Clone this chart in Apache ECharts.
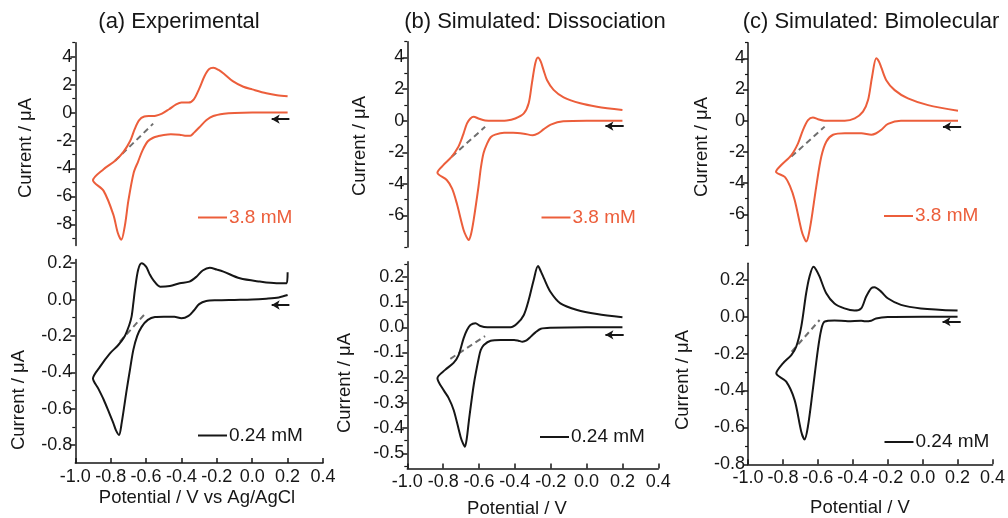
<!DOCTYPE html>
<html>
<head>
<meta charset="utf-8">
<script src="https://cdn.jsdelivr.net/npm/echarts@6/dist/echarts.min.js"></script>
<style>
  html, body { margin: 0; padding: 0; background: #ffffff; }
  #chart { width: 1008px; height: 518px; }
</style>
</head>
<body>
<div id="chart"></div>
<script>
// Cyclic voltammograms: potential (V) vs current (µA), each loop listed in sweep order
// (start at +0.2 V, sweep negative to the switching potential, then back to +0.2 V).

const potentialTicks = [-1.0, -0.8, -0.6, -0.4, -0.2, 0.0, 0.2, 0.4];

// (a) Experimental, 3.8 mM
const expHigh = [
  [0.20, 0.00], [0.10, 0.00], [0.00, 0.00], [-0.10, -0.02], [-0.16, -0.08], [-0.22, -0.24],
  [-0.26, -0.55], [-0.30, -1.07], [-0.33, -1.45], [-0.35, -1.65], [-0.38, -1.65], [-0.41, -1.58],
  [-0.46, -1.55], [-0.50, -1.60], [-0.53, -1.68], [-0.56, -1.80], [-0.59, -2.05], [-0.62, -2.70],
  [-0.645, -3.50], [-0.67, -4.30], [-0.70, -6.30], [-0.72, -8.10], [-0.74, -9.10], [-0.76, -8.60],
  [-0.785, -7.30], [-0.84, -5.60], [-0.90, -4.84],
  [-0.84, -4.05], [-0.775, -3.45], [-0.73, -2.85], [-0.69, -2.03], [-0.665, -1.20], [-0.64, -0.55],
  [-0.61, -0.28], [-0.575, -0.24], [-0.545, -0.22], [-0.51, -0.07], [-0.47, 0.24], [-0.43, 0.58],
  [-0.40, 0.72], [-0.36, 0.72], [-0.33, 0.95], [-0.30, 1.70], [-0.27, 2.60], [-0.245, 3.10],
  [-0.22, 3.20], [-0.19, 3.05], [-0.16, 2.78], [-0.11, 2.25], [-0.05, 1.85], [0.00, 1.66],
  [0.08, 1.38], [0.14, 1.24], [0.20, 1.17]
];
// (a) Experimental, 0.24 mM
const expLow = [
  [0.20, 0.025], [0.15, 0.012], [0.08, 0.005], [0.00, 0.000], [-0.10, -0.002], [-0.20, -0.004],
  [-0.26, -0.008], [-0.30, -0.025], [-0.33, -0.060], [-0.36, -0.090], [-0.40, -0.103], [-0.44, -0.095],
  [-0.50, -0.094], [-0.55, -0.096], [-0.59, -0.112], [-0.625, -0.150], [-0.65, -0.200], [-0.672, -0.277],
  [-0.69, -0.380], [-0.71, -0.500], [-0.738, -0.680], [-0.753, -0.745], [-0.77, -0.720], [-0.785, -0.680],
  [-0.81, -0.620], [-0.84, -0.550], [-0.87, -0.490], [-0.90, -0.435],
  [-0.86, -0.369], [-0.804, -0.296], [-0.757, -0.250], [-0.72, -0.200], [-0.695, -0.140], [-0.682, -0.094],
  [-0.672, -0.020], [-0.663, 0.053], [-0.645, 0.163], [-0.625, 0.200], [-0.60, 0.181], [-0.58, 0.140],
  [-0.56, 0.108], [-0.52, 0.071], [-0.465, 0.075], [-0.41, 0.090], [-0.355, 0.099], [-0.315, 0.126],
  [-0.28, 0.160], [-0.24, 0.175], [-0.20, 0.165], [-0.163, 0.154], [-0.07, 0.117], [0.043, 0.099],
  [0.137, 0.090], [0.195, 0.090], [0.20, 0.150]
];
// (b) Simulated: Dissociation, 3.8 mM
const disHigh = [
  [0.20, 0.00], [0.00, 0.00], [-0.13, -0.04], [-0.20, -0.25], [-0.24, -0.55], [-0.27, -0.80],
  [-0.30, -0.92], [-0.35, -0.82], [-0.41, -0.76], [-0.46, -0.76], [-0.51, -0.88], [-0.535, -1.05],
  [-0.555, -1.45], [-0.575, -2.06], [-0.59, -3.00], [-0.603, -4.18], [-0.63, -6.29], [-0.645, -7.20],
  [-0.658, -7.55], [-0.67, -7.35], [-0.686, -6.92], [-0.724, -5.23], [-0.75, -4.30], [-0.78, -3.75],
  [-0.832, -3.29],
  [-0.798, -2.80], [-0.752, -2.28], [-0.715, -1.65], [-0.70, -1.25], [-0.686, -0.80], [-0.667, -0.17],
  [-0.648, 0.14], [-0.63, 0.25], [-0.603, 0.14], [-0.566, 0.02], [-0.52, 0.00], [-0.445, 0.02],
  [-0.398, 0.14], [-0.35, 0.46], [-0.323, 1.10], [-0.305, 2.37], [-0.286, 3.64], [-0.271, 4.00],
  [-0.256, 3.75], [-0.24, 3.20], [-0.221, 2.58], [-0.184, 1.95], [-0.128, 1.48], [-0.035, 1.10],
  [0.058, 0.89], [0.20, 0.68]
];
// (b) Simulated: Dissociation, 0.24 mM
const disLow = [
  [0.20, 0.000], [0.00, 0.000], [-0.20, -0.002], [-0.255, -0.006], [-0.285, -0.020], [-0.311, -0.037],
  [-0.335, -0.052], [-0.358, -0.057], [-0.38, -0.053], [-0.404, -0.050], [-0.479, -0.050], [-0.535, -0.053],
  [-0.573, -0.070], [-0.59, -0.090], [-0.60, -0.117], [-0.628, -0.222], [-0.656, -0.368], [-0.668, -0.440],
  [-0.679, -0.474], [-0.69, -0.460], [-0.703, -0.434], [-0.741, -0.329], [-0.77, -0.280], [-0.797, -0.250],
  [-0.832, -0.202],
  [-0.789, -0.169], [-0.742, -0.141], [-0.714, -0.110], [-0.686, -0.044], [-0.667, -0.011], [-0.648, 0.009],
  [-0.62, 0.016], [-0.592, 0.005], [-0.554, 0.000], [-0.424, 0.000], [-0.386, 0.016], [-0.35, 0.049],
  [-0.323, 0.108], [-0.295, 0.188], [-0.271, 0.243], [-0.255, 0.222], [-0.239, 0.196], [-0.202, 0.141],
  [-0.146, 0.095], [-0.053, 0.069], [0.058, 0.053], [0.20, 0.040]
];
// (c) Simulated: Bimolecular, 3.8 mM
const bimHigh = [
  [0.20, 0.00], [0.00, 0.00], [-0.126, 0.00], [-0.20, -0.20], [-0.238, -0.58], [-0.27, -0.82],
  [-0.295, -0.90], [-0.352, -0.80], [-0.447, -0.80], [-0.514, -0.90], [-0.552, -1.33], [-0.581, -2.30],
  [-0.61, -4.22], [-0.638, -6.36], [-0.655, -7.40], [-0.667, -7.75], [-0.68, -7.50], [-0.695, -7.00],
  [-0.733, -5.10], [-0.76, -4.20], [-0.79, -3.60], [-0.84, -3.27],
  [-0.81, -2.84], [-0.752, -2.20], [-0.714, -1.45], [-0.686, -0.60], [-0.657, 0.04], [-0.629, 0.21],
  [-0.60, 0.09], [-0.562, 0.00], [-0.447, 0.00], [-0.39, 0.15], [-0.343, 0.58], [-0.314, 1.32],
  [-0.291, 2.82], [-0.267, 4.00], [-0.252, 3.80], [-0.238, 3.40], [-0.21, 2.60], [-0.162, 1.96],
  [-0.086, 1.43], [0.029, 1.00], [0.20, 0.64]
];
// (c) Simulated: Bimolecular, 0.24 mM
const bimLow = [
  [0.20, 0.000], [0.00, 0.000], [-0.20, -0.002], [-0.267, -0.010], [-0.295, -0.022], [-0.33, -0.025],
  [-0.352, -0.022], [-0.428, -0.024], [-0.505, -0.020], [-0.562, -0.027], [-0.581, -0.072], [-0.60, -0.180],
  [-0.629, -0.397], [-0.657, -0.596], [-0.676, -0.665], [-0.695, -0.623], [-0.733, -0.452], [-0.781, -0.352],
  [-0.838, -0.307],
  [-0.80, -0.253], [-0.752, -0.208], [-0.724, -0.163], [-0.695, -0.054], [-0.667, 0.127], [-0.648, 0.217],
  [-0.625, 0.271], [-0.61, 0.255], [-0.59, 0.217], [-0.552, 0.127], [-0.505, 0.072], [-0.448, 0.045],
  [-0.39, 0.033], [-0.352, 0.045], [-0.324, 0.108], [-0.295, 0.154], [-0.276, 0.160], [-0.238, 0.136],
  [-0.20, 0.100], [-0.124, 0.064], [-0.01, 0.045], [0.20, 0.033]
];

// Dashed baseline extrapolations
const expHighDash = [[-0.775, -3.45], [-0.56, -0.79]];
const expLowDash = [[-0.748, -0.232], [-0.60, -0.072]];
const disHighDash = [[-0.752, -2.28], [-0.566, -0.38]];
const disLowDash = [[-0.76, -0.125], [-0.566, -0.035]];
const bimHighDash = [[-0.752, -2.30], [-0.562, -0.38]];
const bimLowDash = [[-0.75, -0.19], [-0.59, -0.018]];

// Sweep direction arrows (tail, head)
const expHighArrow = [[0.21, -0.47], [0.11, -0.47]];
const expLowArrow = [[0.21, -0.030], [0.11, -0.030]];
const disHighArrow = [[0.207, -0.34], [0.105, -0.34]];
const disLowArrow = [[0.207, -0.030], [0.105, -0.030]];
const bimHighArrow = [[0.218, -0.38], [0.114, -0.38]];
const bimLowArrow = [[0.218, -0.027], [0.114, -0.027]];

// Current axis ticks
const expHighTicks = [4, 2, 0, -2, -4, -6, -8];
const expHighMinor = [5, 3, 1, -1, -3, -5, -7, -9];
const expLowTicks = [0.2, 0.0, -0.2, -0.4, -0.6, -0.8];
const expLowMinor = [0.1, -0.1, -0.3, -0.5, -0.7];
const simHighTicks = [4, 2, 0, -2, -4, -6];
const simHighMinor = [5, 3, 1, -1, -3, -5, -7, -8];
const disLowTicks = [0.2, 0.1, 0.0, -0.1, -0.2, -0.3, -0.4, -0.5];
const disLowMinor = [0.25, 0.15, 0.05, -0.05, -0.15, -0.25, -0.35, -0.45, -0.55];
const bimLowTicks = [0.2, 0.0, -0.2, -0.4, -0.6, -0.8];
const bimLowMinor = [0.1, -0.1, -0.3, -0.5, -0.7];

const panelTitles = ['(a) Experimental', '(b) Simulated: Dissociation', '(c) Simulated: Bimolecular'];
const currentName = 'Current / \u03bcA';
const potentialNames = ['Potential / V vs Ag/AgCl', 'Potential / V', 'Potential / V'];
const concHigh = '3.8 mM';
const concLow = '0.24 mM';

const ORANGE = '#ec5e3b';
const BLACK = '#161616';
const FONT = '"Liberation Sans", Arial, Helvetica, sans-serif';

const fmt1 = v => (Math.abs(v) < 1e-9 ? '0.0' : v.toFixed(1));
const fmt0 = v => (Math.abs(v) < 1e-9 ? '0' : String(Math.round(v)));

// grid boxes: [left, top, width, height]
const panels = [
  { box: [75.3, 42.7, 247.7, 202.7], y: [-9.5, 5], ticks: expHighTicks, minor: expHighMinor, fmt: fmt0,
    data: expHigh, dash: expHighDash, arrow: expHighArrow, color: ORANGE, name: concHigh, showX: false,
    legend: [198, 208] },
  { box: [75.3, 259.6, 247.7, 203.5], y: [-0.9, 0.22], ticks: expLowTicks, minor: expLowMinor, fmt: fmt1,
    data: expLow, dash: expLowDash, arrow: expLowArrow, color: BLACK, name: concLow, showX: true,
    legend: [198, 426] },
  { box: [407.3, 41.7, 251, 205.4], y: [-8, 5], ticks: simHighTicks, minor: simHighMinor, fmt: fmt0,
    data: disHigh, dash: disHighDash, arrow: disHighArrow, color: ORANGE, name: concHigh, showX: false,
    legend: [541.5, 208] },
  { box: [407.3, 261.8, 251, 206.6], y: [-0.56, 0.26], ticks: disLowTicks, minor: disLowMinor, fmt: fmt1,
    data: disLow, dash: disLowDash, arrow: disLowArrow, color: BLACK, name: concLow, showX: true,
    legend: [540, 427.5] },
  { box: [748, 42.7, 245, 202.8], y: [-8, 5], ticks: simHighTicks, minor: simHighMinor, fmt: fmt0,
    data: bimHigh, dash: bimHighDash, arrow: bimHighArrow, color: ORANGE, name: concHigh, showX: false,
    legend: [884, 206.5] },
  { box: [748, 263.2, 245, 201.1], y: [-0.8, 0.29], ticks: bimLowTicks, minor: bimLowMinor, fmt: fmt1,
    data: bimLow, dash: bimLowDash, arrow: bimLowArrow, color: BLACK, name: concLow, showX: true,
    legend: [884.5, 432.5] }
];

const grid = [], xAxis = [], yAxis = [], series = [], legend = [];

panels.forEach((p, i) => {
  grid.push({ left: p.box[0], top: p.box[1], width: p.box[2], height: p.box[3], containLabel: false });

  xAxis.push({
    type: 'value', gridIndex: i, min: potentialTicks[0], max: potentialTicks[potentialTicks.length - 1],
    interval: 0.2, show: p.showX,
    axisLine: { show: true, onZero: false, lineStyle: { color: BLACK, width: 1.5 } },
    axisTick: { show: true, inside: true, length: 5, lineStyle: { color: BLACK, width: 1.5 } },
    axisLabel: { show: true, margin: 5, color: BLACK, fontSize: 18, fontFamily: FONT, formatter: fmt1 },
    splitLine: { show: false }
  });

  // main current axis (line, major ticks, labels)
  yAxis.push({
    type: 'value', gridIndex: i, min: p.y[0], max: p.y[1], position: 'left',
    axisLine: { show: true, onZero: false, lineStyle: { color: BLACK, width: 1.5 } },
    axisTick: { show: true, inside: false, length: 5, customValues: p.ticks, lineStyle: { color: BLACK, width: 1.5 } },
    axisLabel: { show: true, margin: 3, color: BLACK, fontSize: 18, fontFamily: FONT,
      customValues: p.ticks, formatter: p.fmt },
    splitLine: { show: false }
  });
  // minor ticks on the same axis position
  yAxis.push({
    type: 'value', gridIndex: i, min: p.y[0], max: p.y[1], position: 'left',
    axisLine: { show: false, onZero: false },
    axisTick: { show: true, inside: false, length: 3, customValues: p.minor, lineStyle: { color: BLACK, width: 1.2 } },
    axisLabel: { show: false },
    splitLine: { show: false }
  });

  series.push({
    type: 'line', name: p.name, xAxisIndex: i, yAxisIndex: 2 * i,
    data: p.data, showSymbol: false, symbol: 'none', smooth: 0.3, z: 3,
    lineStyle: { color: p.color, width: 2 }, itemStyle: { color: p.color }
  });
  series.push({
    type: 'line', name: 'baseline-' + i, xAxisIndex: i, yAxisIndex: 2 * i,
    data: p.dash, showSymbol: false, symbol: 'none', z: 2,
    lineStyle: { color: '#6f6f6f', width: 2, type: [6, 4] },
    markLine: {
      silent: true, symbol: ['none', 'arrow'], symbolSize: [7, 8],
      label: { show: false },
      lineStyle: { color: BLACK, width: 2, type: 'solid' },
      data: [[{ coord: p.arrow[0] }, { coord: p.arrow[1] }]]
    }
  });

  legend.push({
    left: p.legend[0], top: p.legend[1], orient: 'horizontal', selectedMode: false,
    itemWidth: 29, itemHeight: 2, itemGap: 0, icon: 'rect', padding: 0,
    data: [{ name: p.name, itemStyle: { color: p.color } }],
    textStyle: { color: p.color, fontSize: 19, fontFamily: FONT, padding: [0, 0, 0, -3] }
  });
});

const textStyle = (size) => ({ fontSize: size, fontFamily: FONT, fill: BLACK });

const graphic = [
  { type: 'text', x: 179, y: 22, style: Object.assign({ text: panelTitles[0], textAlign: 'center', textVerticalAlign: 'middle' }, textStyle(22)) },
  { type: 'text', x: 535, y: 22, style: Object.assign({ text: panelTitles[1], textAlign: 'center', textVerticalAlign: 'middle' }, textStyle(22)) },
  { type: 'text', x: 871, y: 22, style: Object.assign({ text: panelTitles[2], textAlign: 'center', textVerticalAlign: 'middle' }, textStyle(22)) },
  { type: 'text', x: 197, y: 498, style: Object.assign({ text: potentialNames[0], textAlign: 'center', textVerticalAlign: 'middle' }, textStyle(18.5)) },
  { type: 'text', x: 517, y: 509, style: Object.assign({ text: potentialNames[1], textAlign: 'center', textVerticalAlign: 'middle' }, textStyle(18.5)) },
  { type: 'text', x: 860, y: 508, style: Object.assign({ text: potentialNames[2], textAlign: 'center', textVerticalAlign: 'middle' }, textStyle(18.5)) }
];
[[26, 148], [19, 400], [360, 146], [345, 383], [702, 147], [683, 380]].forEach(([x, y]) => {
  graphic.push({ type: 'text', x: x, y: y, rotation: Math.PI / 2,
    style: Object.assign({ text: currentName, textAlign: 'center', textVerticalAlign: 'middle' }, textStyle(18.5)) });
});

const chart = echarts.init(document.getElementById('chart'), null, { renderer: 'canvas' });
chart.setOption({
  animation: false,
  backgroundColor: '#ffffff',
  textStyle: { fontFamily: FONT },
  grid, xAxis, yAxis, series, legend, graphic
});
</script>
</body>
</html>
